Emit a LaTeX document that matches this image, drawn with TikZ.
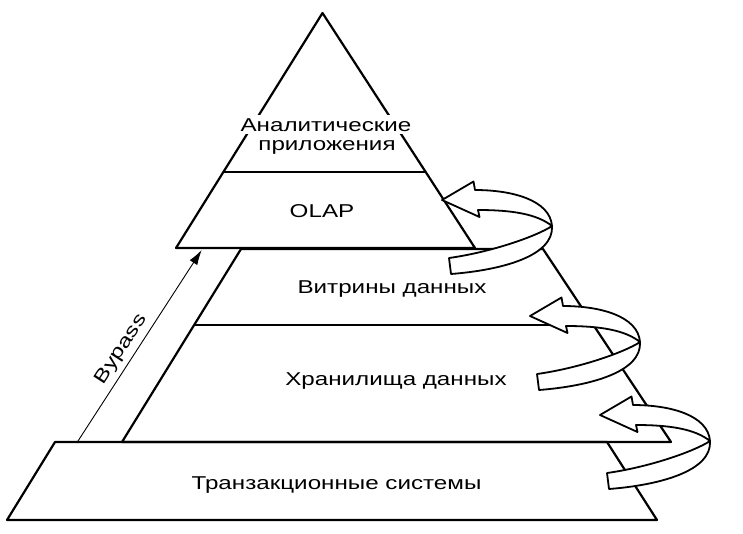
\documentclass[tikz,border=0pt]{standalone}
\usepackage{fontspec}
\newfontfamily\labelfont[FakeStretch=1.3]{Liberation Sans}
\usetikzlibrary{arrows.meta}

\begin{document}
\begin{tikzpicture}[x=1pt,y=-1pt,
    layer/.style={line width=2.2pt,line join=round},
    ribbon/.style={draw,fill=white,line width=1.8pt,line join=round},
    caption/.style={font=\labelfont\fontsize{18.6}{19}\selectfont,inner sep=1pt,anchor=base}]
  \useasboundingbox (0,0) rectangle (743,533);

  % pyramid
  \draw[layer] (322.5,13) -- (176,248) -- (475,248) -- cycle;
  \draw[layer] (223.4,172) -- (425.7,172);
  \draw[layer] (241,249) -- (543,249) -- (671,442) -- (122,442) -- cycle;
  \draw[layer] (194.4,325) -- (593,325);
  \draw[layer] (55,442) -- (607,442) -- (657,520) -- (7,520) -- cycle;

  % wrap-around arrows
  \foreach \tx/\ty in {442/200,530/316,600/415}{
    \begin{scope}[shift={(\tx,\ty)}]
      \draw[ribbon] (0,0) -- (31.5,-18.5) -- (33,-10)
        .. controls (70,-10) and (108,0) .. (110,26)
        .. controls (95,14) and (70,10) .. (36,10)
        -- (37.5,17) -- cycle;
      \draw[ribbon] (110,26) .. controls (95,36) and (50,52) .. (7,58)
        -- (9,74) .. controls (60,70) and (112,56) .. (110,26) -- cycle;
    \end{scope}
  }

  % bypass
  \coordinate (bp1) at (76.7,443);
  \coordinate (bp2) at (201.7,250);
  \path [-{Latex[length=15pt,width=9pt]},line width=0.9pt] (bp1) edge (bp2);

  % labels
  \node[caption,fill=white,inner ysep=3pt] (anl) at (326,131) {Аналитические};
  \node[caption] (apps) at (327,150) {приложения};
  \node[caption] (olap) at (322,217) {OLAP};
  \node[caption] (marts) at (392,293) {Витрины данных};
  \node[caption] (dwh) at (396,385) {Хранилища данных};
  \node[caption] (oltp) at (336.5,489) {Транзакционные системы};
  \node[caption,rotate=57] (bypass) at (125,352) {Bypass};
\end{tikzpicture}
\end{document}
